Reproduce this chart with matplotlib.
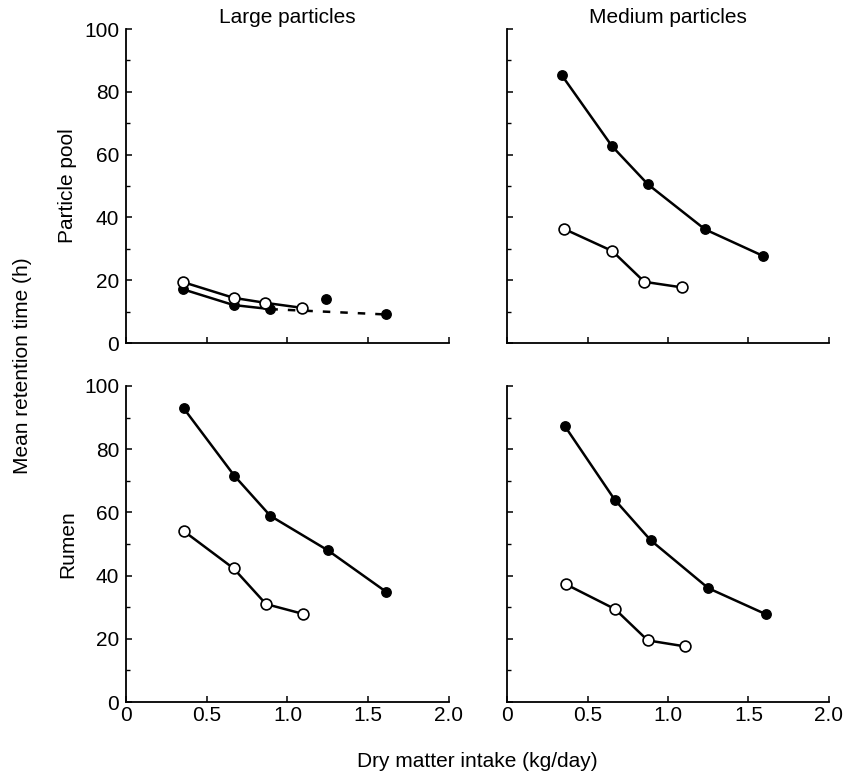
import matplotlib
matplotlib.use("Agg")
import matplotlib.pyplot as plt
from matplotlib.ticker import MultipleLocator

plt.rcParams['font.family'] = ['Liberation Sans', 'DejaVu Sans']

# Large particles, particle pool
lp_pool_open_x = [0.354, 0.666, 0.863, 1.091]
lp_pool_open_y = [19.4, 14.4, 12.8, 11.2]
lp_pool_fill_x = [0.354, 0.666, 0.894]
lp_pool_fill_y = [17.1, 12.1, 10.8]
lp_pool_dash_x = [0.894, 1.609]
lp_pool_dash_y = [10.8, 9.1]
lp_pool_lone_x = [1.24]
lp_pool_lone_y = [13.9]

# Medium particles, particle pool
mp_pool_fill_x = [0.340, 0.652, 0.876, 1.230, 1.592]
mp_pool_fill_y = [85.3, 62.7, 50.5, 36.2, 27.7]
mp_pool_open_x = [0.352, 0.654, 0.853, 1.089]
mp_pool_open_y = [36.4, 29.3, 19.5, 17.7]

# Large particles, rumen
lp_rum_fill_x = [0.358, 0.671, 0.894, 1.250, 1.613]
lp_rum_fill_y = [92.9, 71.6, 58.9, 48.0, 34.8]
lp_rum_open_x = [0.360, 0.666, 0.867, 1.095]
lp_rum_open_y = [54.0, 42.3, 31.0, 27.9]

# Medium particles, rumen
mp_rum_fill_x = [0.358, 0.669, 0.892, 1.251, 1.607]
mp_rum_fill_y = [87.4, 64.0, 51.2, 36.0, 27.8]
mp_rum_open_x = [0.364, 0.671, 0.874, 1.106]
mp_rum_open_y = [37.3, 29.4, 19.5, 17.6]

xticks = [0, 0.5, 1.0, 1.5, 2.0]
xticklabels = ['0', '0.5', '1.0', '1.5', '2.0']
yticks = [0, 20, 40, 60, 80, 100]

fig = plt.figure(figsize=(8.46, 7.74), dpi=100)
ax_tl = fig.add_axes([0.1489, 0.5568, 0.3818, 0.4057])
ax_tr = fig.add_axes([0.5993, 0.5568, 0.3806, 0.4057])
ax_bl = fig.add_axes([0.1489, 0.0930, 0.3818, 0.4083])
ax_br = fig.add_axes([0.5993, 0.0930, 0.3806, 0.4083])

fill_kw = dict(color='black', lw=1.8, marker='o', ms=6.8, mfc='black', mec='black', zorder=3)
open_kw = dict(color='black', lw=1.8, marker='o', ms=7.8, mfc='white', mec='black', mew=1.2, zorder=4)


def style(ax, xlab, ylab):
    ax.set_xlim(0, 2.0)
    ax.set_ylim(0, 100)
    for s in ['top', 'right']:
        ax.spines[s].set_visible(False)
    for s in ['left', 'bottom']:
        ax.spines[s].set_linewidth(1.3)
    ax.set_xticks(xticks)
    ax.set_yticks(yticks)
    ax.yaxis.set_minor_locator(MultipleLocator(10))
    ax.tick_params(which='major', direction='in', length=4, width=1.1, labelsize=15)
    ax.tick_params(axis='x', which='major', pad=3)
    ax.tick_params(axis='y', which='major', pad=5)
    ax.tick_params(which='minor', direction='in', length=3, width=1.0)
    ax.tick_params(axis='x', which='minor', length=0)
    if xlab:
        ax.set_xticklabels(xticklabels)
    else:
        ax.set_xticklabels([])
    if not ylab:
        ax.set_yticklabels([])


style(ax_tl, False, True)
style(ax_tr, False, False)
style(ax_bl, True, True)
style(ax_br, True, False)

# top left
ax_tl.plot(lp_pool_dash_x, lp_pool_dash_y, color='black', lw=1.8, ls=(0, (3, 4)), zorder=2)
ax_tl.plot(lp_pool_fill_x, lp_pool_fill_y, **fill_kw)
ax_tl.plot(lp_pool_dash_x[1:], lp_pool_dash_y[1:], ls='none', marker='o', ms=6.8, color='black', zorder=3)
ax_tl.plot(lp_pool_lone_x, lp_pool_lone_y, ls='none', marker='o', ms=6.8, color='black', zorder=3)
ax_tl.plot(lp_pool_open_x, lp_pool_open_y, **open_kw)

# top right
ax_tr.plot(mp_pool_fill_x, mp_pool_fill_y, **fill_kw)
ax_tr.plot(mp_pool_open_x, mp_pool_open_y, **open_kw)

# bottom left
ax_bl.plot(lp_rum_fill_x, lp_rum_fill_y, **fill_kw)
ax_bl.plot(lp_rum_open_x, lp_rum_open_y, **open_kw)

# bottom right
ax_br.plot(mp_rum_fill_x, mp_rum_fill_y, **fill_kw)
ax_br.plot(mp_rum_open_x, mp_rum_open_y, **open_kw)

ax_tl.set_title('Large particles', fontsize=15, pad=4)
ax_tr.set_title('Medium particles', fontsize=15, pad=4)

ax_tl.set_ylabel('Particle pool', fontsize=15, labelpad=5)
ax_bl.set_ylabel('Rumen', fontsize=15, labelpad=5)

fig.text(0.027, 0.528, 'Mean retention time (h)', rotation=90, ha='center', va='center', fontsize=15)
fig.text(0.564, 0.016, 'Dry matter intake (kg/day)', ha='center', va='center', fontsize=15)

fig.savefig('out.png', dpi=100)
